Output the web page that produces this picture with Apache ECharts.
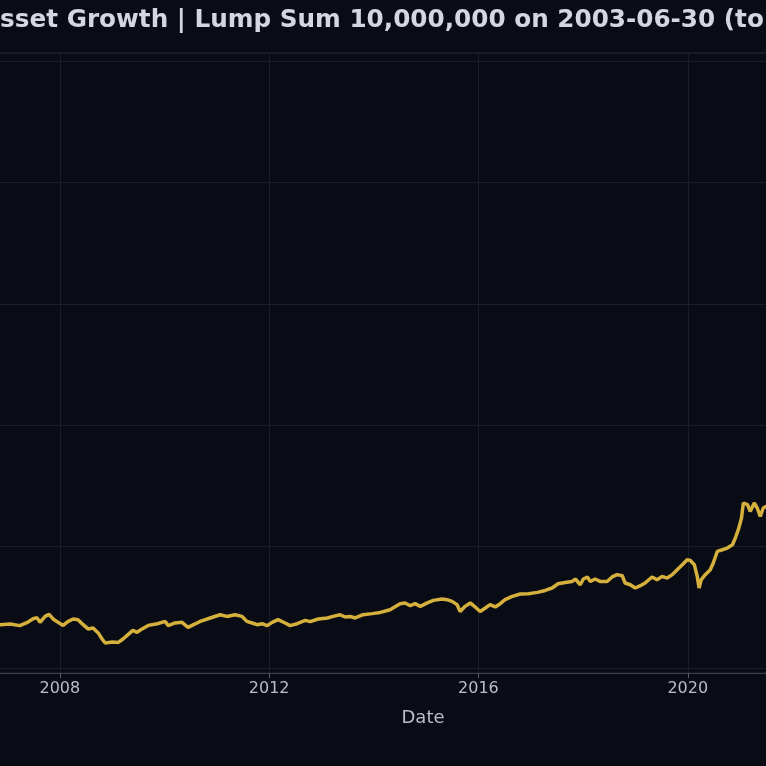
<!DOCTYPE html>
<html>
<head>
<meta charset="utf-8">
<title>Asset Growth</title>
<script src="https://cdn.jsdelivr.net/npm/echarts@6/dist/echarts.min.js"></script>
<style>
    html, body { margin: 0; padding: 0; background: #090c15; }
    #assetChart { width: 766px; height: 766px; }
</style>
</head>
<body>
<div id="assetChart"></div>
<script>
// 数据——资产净值（一次性投入 10,000,000，2003-06-30 起）
const dates = [
    '2003-06-30', '2003-12-31', '2004-06-30', '2004-12-31', '2005-06-30', '2005-12-30', '2006-05-10', '2006-06-15', '2006-09-29',
    '2006-11-11', '2007-01-19', '2007-03-28', '2007-05-16', '2007-06-28', '2007-07-25', '2007-08-16', '2007-09-20', '2007-10-18', '2007-11-15', '2007-12-20',
    '2008-01-24', '2008-02-28', '2008-04-03', '2008-05-07', '2008-06-12', '2008-07-16', '2008-08-20', '2008-09-25', '2008-10-22', '2008-11-13',
    '2009-01-02', '2009-02-12', '2009-03-17', '2009-04-21', '2009-05-25', '2009-06-23', '2009-07-28', '2009-09-09', '2009-11-11',
    '2010-01-06', '2010-01-27', '2010-03-15', '2010-05-03', '2010-06-14', '2010-08-02', '2010-09-07', '2010-11-16',
    '2011-01-24', '2011-03-12', '2011-05-08', '2011-06-26', '2011-07-30', '2011-09-04', '2011-10-09', '2011-11-13', '2011-12-18',
    '2012-01-22', '2012-03-03', '2012-04-22', '2012-05-26', '2012-07-14', '2012-09-09', '2012-10-14', '2012-12-09',
    '2013-02-11', '2013-03-22', '2013-05-10', '2013-06-14', '2013-07-19', '2013-08-23', '2013-10-18', '2013-12-20',
    '2014-02-15', '2014-04-24', '2014-07-03', '2014-08-07', '2014-09-12', '2014-10-16', '2014-11-21',
    '2015-01-09', '2015-02-20', '2015-04-22', '2015-05-26', '2015-07-01', '2015-08-05', '2015-08-26', '2015-09-30', '2015-11-04', '2015-12-09',
    '2016-01-13', '2016-02-18', '2016-03-22', '2016-04-27', '2016-06-01', '2016-07-05', '2016-08-24', '2016-10-19', '2016-12-14',
    '2017-02-16', '2017-04-11', '2017-05-29', '2017-07-10', '2017-08-28', '2017-10-16', '2017-11-07', '2017-12-12',
    '2018-01-02', '2018-01-30', '2018-02-20', '2018-03-25', '2018-04-29', '2018-06-17', '2018-07-22', '2018-08-26', '2018-10-01', '2018-10-21', '2018-11-26', '2018-12-30',
    '2019-02-04', '2019-03-09', '2019-04-27', '2019-06-01', '2019-07-06', '2019-08-10', '2019-09-15', '2019-10-19', '2019-11-24', '2019-12-28',
    '2020-01-19', '2020-02-16', '2020-03-07', '2020-03-20', '2020-04-04', '2020-05-02', '2020-06-06', '2020-06-27', '2020-07-25', '2020-08-29', '2020-10-03', '2020-11-08', '2020-11-28', '2020-12-19',
    '2021-01-10', '2021-01-23', '2021-02-21', '2021-03-12', '2021-04-09', '2021-04-30', '2021-05-21', '2021-06-11', '2021-07-02',
    '2021-09-30', '2021-12-31', '2022-06-30', '2022-12-30', '2023-06-30', '2023-12-29', '2024-06-28', '2024-12-31', '2025-04-08', '2025-12-31', '2026-05-22'
]

const assetValues = [
    10000000, 11000000, 11400000, 12000000, 12200000, 12800000, 13400000, 12900000, 13300000,
    13580000, 13640000, 13500000, 13740000, 14070000, 14160000, 13770000, 14260000, 14430000, 14050000, 13770000,
    13520000, 13850000, 14050000, 13990000, 13580000, 13230000, 13310000, 12900000, 12400000, 12070000,
    12160000, 12120000, 12400000, 12760000, 13110000, 12950000, 13230000, 13520000, 13660000,
    13850000, 13500000, 13720000, 13770000, 13360000, 13640000, 13850000, 14130000,
    14400000, 14260000, 14400000, 14260000, 13850000, 13720000, 13580000, 13660000, 13500000,
    13770000, 13990000, 13720000, 13500000, 13660000, 13930000, 13830000, 14050000,
    14130000, 14260000, 14400000, 14210000, 14260000, 14130000, 14400000, 14490000,
    14590000, 14810000, 15310000, 15370000, 15140000, 15310000, 15090000,
    15370000, 15580000, 15700000, 15640000, 15500000, 15230000, 14670000, 15090000, 15370000, 15040000,
    14670000, 14950000, 15230000, 15040000, 15310000, 15640000, 15910000, 16110000, 16130000,
    16240000, 16400000, 16600000, 16950000, 17060000, 17140000, 17340000, 16870000,
    17340000, 17510000, 17140000, 17340000, 17140000, 17140000, 17510000, 17700000, 17610000, 17010000, 16870000, 16600000,
    16790000, 17010000, 17510000, 17280000, 17560000, 17420000, 17700000, 18110000, 18520000, 18930000,
    18870000, 18520000, 17560000, 16600000, 17280000, 17700000, 18110000, 18660000, 19610000, 19750000, 19890000, 20160000, 20720000, 21400000,
    22360000, 23600000, 23460000, 22910000, 23600000, 23190000, 22490000, 23190000, 23320000,
    23900000, 24600000, 20800000, 21600000, 23400000, 25200000, 27600000, 29500000, 26800000, 31500000, 33800000
]

// 横轴刻度（年份）
const yearTicks = ['2004-01-01', '2008-01-01', '2012-01-01', '2016-01-01', '2020-01-01', '2024-01-01']
const startDate = '2003-06-30'
const endDate = '2026-05-22'

const chartTitle = 'Asset Growth | Lump Sum 10,000,000 on 2003-06-30 (to 2026-05-22)'

// 日期字符串转 UTC 时间戳
function toTime(d) {
    return Date.parse(d + 'T00:00:00Z')
}

function drawAssetChart() {
    let seriesData = []
    dates.forEach((d, i) => {
        seriesData.push([toTime(d), assetValues[i]])
    })
    let tickValues = yearTicks.map(toTime)

    var myChart = echarts.init(document.getElementById('assetChart'))

    var option = {
        backgroundColor: '#090c15',
        animation: false,
        title: {
            text: chartTitle,
            left: -24,
            top: 3,
            textStyle: {
                color: '#d3d7df',
                fontFamily: 'DejaVu Sans',
                fontWeight: 'bold',
                fontSize: 24.7
            }
        },
        grid: {
            left: -176,
            right: -256,
            top: 53,
            bottom: 93,
            containLabel: false,
            outerBoundsMode: 'none',
            show: true,
            borderWidth: 1,
            borderColor: '#20242f',
            backgroundColor: 'transparent'
        },
        xAxis: {
            type: 'value',
            min: toTime(startDate),
            max: toTime(endDate),
            name: 'Date',
            nameLocation: 'middle',
            nameGap: 36,
            nameTextStyle: {
                color: '#b9bdc7',
                fontFamily: 'DejaVu Sans',
                fontSize: 18
            },
            axisLine: {
                show: true,
                lineStyle: { color: '#3a3f4d', width: 1 }
            },
            axisTick: {
                show: true,
                length: 5,
                customValues: tickValues,
                lineStyle: { color: '#5a5f6c' }
            },
            axisLabel: {
                customValues: tickValues,
                color: '#b9bdc7',
                fontFamily: 'DejaVu Sans',
                fontSize: 16,
                margin: 8,
                formatter: value => String(new Date(value).getUTCFullYear())
            },
            splitLine: {
                show: true,
                lineStyle: { color: '#1a1e29', width: 1 }
            }
        },
        yAxis: {
            type: 'value',
            min: 9600000,
            max: 60660000,
            splitNumber: 5,
            axisLine: { show: false },
            axisTick: { show: false },
            axisLabel: {
                color: '#b9bdc7',
                fontSize: 16
            },
            splitLine: {
                show: true,
                lineStyle: { color: '#1a1e29', width: 1 }
            }
        },
        series: [
            {
                name: 'Asset',
                type: 'line',
                data: seriesData,
                showSymbol: false,
                symbol: 'none',
                lineStyle: {
                    color: '#d6b03c',
                    width: 3.5
                },
                itemStyle: {
                    color: '#d6b03c'
                }
            }
        ]
    }

    myChart.setOption(option)
}

drawAssetChart()
</script>
</body>
</html>
